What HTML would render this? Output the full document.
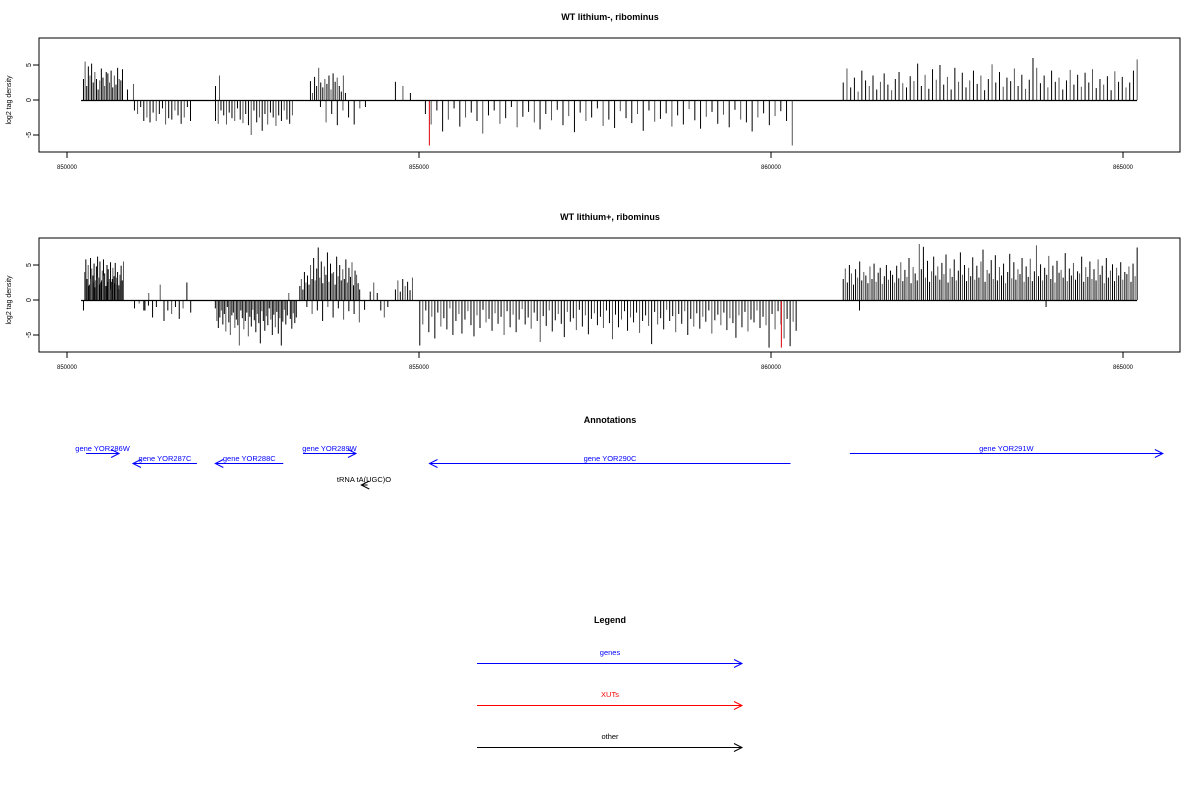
<!DOCTYPE html>
<html><head><meta charset="utf-8"><style>
body{margin:0;background:#fff;}
svg{display:block;font-family:"Liberation Sans",sans-serif;}
</style></head><body>
<svg id="c" width="1200" height="800" viewBox="0 0 1200 800"></svg>
<script>
const xTicks=[850000,855000,860000,865000];
const yTicks=[-5,0,5];
// Panel 1 regions: [startBp, endBp] and values
const p1Start=[850227,850852,850951,852102,852102,853451,853593,854658,855084,861019];
const p1End=[850781,850937,851747,852159,853195,853948,854232,854871,860295,865194];
const p1Vals=[
[3,5.5,2,4.8,3.5,5.2,2.5,4,3,1.5,2.8,4.5,3.2,2,4,3.8,2.5,4.2,1.8,3.5,2.2,4.6,3,2.8,4.4],
[1.5,2.3],
[-1.5,-2,-1,-3,-2.5,-3.2,-1.8,-3,-2,-1.2,-3.5,-2.6,-2.8,-1.5,-2.2,-3.4,-2.5,-1,-3],
[2,3.5],
[-3,-3.4,-1.5,-2.2,-3.5,-1.8,-2.6,-3,-1.2,-2.8,-3.3,-2,-3.6,-5,-1.5,-3.2,-2.5,-4.4,-2,-3.5,-1.8,-2.5,-3.7,-2.2,-3,-1.5,-2.8,-3.4,-2.2],
[2.7,1,3.3,2,4.6,2.5,1.8,3,2.3,3.5,1.5,3.8,2.6,3.2,2,1.2,3.5,1],
[-1,-3.2,-2,-3.6,-1.5,-2.5,-3.5,-1.2,-1],
[2.6,2,1],
[-2,-3.5,-1.5,-4.5,-2.8,-1.2,-3.8,-2.5,-1.8,-3,-4.8,-2.2,-1.5,-3.4,-2.6,-1,-3.9,-2.4,-1.7,-3.2,-4.2,-2,-2.9,-1.4,-3.6,-2.3,-4.6,-1.8,-3,-2.5,-1.2,-3.7,-2.8,-4,-1.6,-2.6,-3.3,-2,-4.4,-1.5,-3.1,-2.7,-1.9,-3.8,-2.2,-3.5,-1.3,-2.9,-4.1,-2.4,-1.7,-3.4,-2.1,-3.9,-1.4,-2.8,-3.2,-4.5,-2.5,-1.9,-3.6,-2.3,-1.6,-3,-6.5],
[2.5,4.5,1.8,3.2,1.2,4.2,2.8,2,3.5,1.5,2.6,3.8,2.2,1.4,3,4,2.4,1.8,3.4,2.7,5.2,2,3.6,1.6,4.4,2.9,5,2.2,3.3,1.5,4.6,2.6,3.9,1.8,2.8,4.2,2.3,3.5,1.4,3,5.1,2.5,4,1.9,3.2,2.7,4.5,2,3.6,1.6,2.9,6,4.6,2.4,3.5,1.8,4.2,2.6,3.2,1.5,2.8,4.3,2.2,3.6,1.9,3.9,2.5,4.4,1.7,3,2.2,3.4,1.4,4.1,2.6,3.3,1.8,2.5,4.2,5.8]
];
const p1RedBp=[855140]; const p1RedVal=[-6.5];
// Panel 2
const p2Start=[850227,850300,850952,851100,852100,853300,853400,854300,854658,855004,861019,861250,863900];
const p2End=[850795,850760,851150,851750,853250,854150,854220,854550,854900,860350,865194,861300,863950];
const p2Vals=[
[-1.5,4,5.8,3,5,2.2,6,4.5,3.5,5.2,2.8,4.8,6.2,3.2,5.5,2.5,4.2,5.8,3.8,2,5,4.4,3,5.4,2.6,4.6,3.4,5.3,2.2,4,1.5,3.6,4.9,2.8,5.5],
[2,3,2.5,1.8,3.2,2.2,2.8,3.5,2,2.6,1.5,3,2.4,3.2,2.1,2.7],
[-1.2,-0.5,-1.5,-0.8],
[-1.5,1,-2.5,-1,2.2,-3,-1.5,-2,-1,-2.7,-1.2,2.5,-1.8],
[-1.2,-3,-4,-2.5,-1.5,-3.5,-2,-4.5,-1,-3.2,-5,-2.2,-1.8,-4,-2.8,-3.6,-6.5,-1.5,-2.6,-4.2,-3,-1.8,-5.2,-2.4,-3.8,-1.4,-2.9,-4.6,-2,-3.3,-6.2,-1.6,-3,-4.4,-2.3,-3.6,-1.2,-2.8,-5,-2.1,-3.9,-1.7,-4.8,-2.6,-6.5,-3.1,-1.4,-3.5,-2.2,1,-2.7,-4.1,-1.9,-3.3,-2.5],
[2,3,1.5,4,2.5,3.5,2.2,5,3,6,2.8,4.5,7.5,3.2,5.5,2.4,4.8,3.6,6.8,2.6,5.2,3.8,4,2.2,6.2,3.4,5,2.8,4.4,3,5.8,2.5,4.6,3.3,5.4,2.1,4.2,3.6,2.4,1.5],
[-1,-2,-1.5,-3,-1,-2.5,-1.2,-2.8,-1.6,-2,-3.2,-1.4],
[1.2,2.5,1,-1.5,-2.5,-1],
[1.5,2.8,1.2,3,2,2.6,1.4,3.2],
[-6.5,-3.5,-1.5,-4.6,-2.4,-5.5,-1.8,-3.8,-2.6,-4.2,-1.2,-5,-3,-2,-4.8,-2.8,-1.6,-3.6,-5.2,-2.2,-4,-1.4,-3.2,-2.7,-4.4,-1.9,-3.4,-2.4,-5,-1.6,-3.9,-2.1,-4.6,-2.8,-1.3,-3.5,-2.5,-4.1,-1.8,-3,-6,-2.3,-3.7,-1.5,-4.5,-2.9,-2,-3.4,-5.3,-1.7,-3.1,-2.6,-4.3,-1.4,-3.8,-2.2,-4.9,-2.7,-1.9,-3.6,-2.4,-4,-1.5,-3.3,-5.6,-2.1,-3.9,-2.8,-1.6,-4.4,-2.5,-3.2,-1.8,-4.7,-3,-2.2,-3.7,-6.3,-1.7,-3.5,-2.6,-4.2,-1.4,-3,-2.3,-4.6,-2,-3.4,-1.6,-5,-2.7,-3.8,-1.9,-4.1,-2.4,-3.1,-1.5,-4.8,-2.9,-2.1,-3.6,-1.8,-4.3,-2.6,-3.3,-5.4,-2.2,-3.9,-1.7,-4.5,-2.8,-3.2,-1.5,-4,-2.4,-3.6,-6.8,-2,-4.2,-1.6,-3.5,-5.5,-2.7,-6.6,-3.1,-4.4],
[3,4.5,2.5,5,3.8,2.2,4.4,3.2,5.5,2.8,4,3.5,2.4,4.8,3,5.2,2.6,3.9,4.6,2.3,3.4,5,2.9,4.2,3.6,2.5,4.9,3.1,5.4,2.7,4.3,3.3,6,2.4,4.7,3.8,2.8,8,4.4,7.6,3.2,5.6,2.6,4.1,6.2,3.5,4.8,2.9,5.3,3.7,6.5,2.5,4.5,3.3,5.8,2.8,4.2,6.8,3.6,5,2.7,4.6,3.4,6.1,2.9,4.9,3.2,5.5,7.2,2.6,4.3,3.8,5.7,3,6.4,2.8,4.7,3.5,5.2,2.4,4,6.6,3.1,5.4,2.9,4.4,3.7,6,2.6,4.8,3.3,5.9,2.7,4.1,7.8,3.4,5.1,2.8,4.6,3.6,6.3,3,4.9,2.5,5.6,3.9,4.3,3.2,6.7,2.7,4.5,3.5,5.3,2.9,4.1,3.8,6.2,2.6,4.7,3.3,5.5,3,4.4,2.8,5.8,3.6,4.9,2.4,6,3.2,4.2,5.1,2.7,4.6,3.5,5.4,2.9,4,3.7,4.8,2.6,5.2,3.4,7.5],
[-1.5],
[-1]
];
const p2RedBp=[860140]; const p2RedVal=[-6.8];
// annotations
const geneNames=["gene YOR286W","gene YOR287C","gene YOR288C","gene YOR289W","gene YOR290C","gene YOR291W"];
const geneStart=[850270,850937,852107,853352,855149,861120];
const geneEnd=[850740,851846,853072,854105,860277,865566];
const geneStrand=["+","-","-","+","-","+"];
const tRNAName=["tRNA tA(UGC)O"];const tRNAStart=[854180];const tRNAEnd=[854270];

const NS="http://www.w3.org/2000/svg";
const svg=document.getElementById('c');
function mk(t,a,p){const e=document.createElementNS(NS,t);for(const k in a)e.setAttribute(k,a[k]);(p||svg).appendChild(e);return e;}
const xs=bp=>67+(bp-850000)*0.0704;
function txt(x,y,s,o){const e=mk('text',Object.assign({x:x,y:y,'font-size':8,'text-anchor':'middle'},o||{}));e.textContent=s;return e;}

function panel(top,title,starts,ends,vals,redBp,redVal,id){
  const y0=top+62; const ys=v=>y0-v*7;
  const g=mk('g',{});
  
  
  const t=txt(610,top-18,title,{'font-size':9,'font-weight':'bold'});
  
  
  const box=mk('rect',{x:39,y:top,width:1141,height:114,fill:'none',stroke:'#000','stroke-width':1},g);
  
  
  const bars=mk('g',{},g);
  
  
  for(let r=0;r<starts.length;r++){
    const n=vals[r].length;
    for(let i=0;i<n;i++){
      const bp=n>1?starts[r]+(ends[r]-starts[r])*i/(n-1):starts[r];
      const x=xs(bp)+0.5;
      const l=mk('line',{x1:x,x2:x,y1:y0,y2:ys(vals[r][i]),stroke:(i%3==1)?'#555':'#000','stroke-width':1},bars);
      
      
    }
  }
  for(let i=0;i<redBp.length;i++){
    const x=xs(redBp[i])+0.5;
    const l=mk('line',{x1:x,x2:x,y1:y0,y2:ys(redVal[i]),stroke:'#d00','stroke-width':1},g);
    
    
  }
  const base=mk('line',{x1:xs(850200),x2:xs(865200),y1:y0+0.5,y2:y0+0.5,stroke:'#000','stroke-width':1.2},g);
  
  
  xTicks.forEach(v=>{const x=xs(v);
    const tk=mk('line',{x1:x,x2:x,y1:top+114,y2:top+120,stroke:'#000'},g);
    
    
    const lb=txt(x,top+131,String(v),{'font-size':6});
    
    });
  yTicks.forEach(v=>{const y=ys(v);
    const tk=mk('line',{x1:33,x2:39,y1:y,y2:y,stroke:'#000'},g);
    
    
    const lb=txt(0,0,String(v),{'font-size':7,transform:`translate(31,${y}) rotate(-90)`});
    
    });
  const yl=txt(0,0,'log2 tag density',{'font-size':7,transform:`translate(11,${y0}) rotate(-90)`});
  
  
}
panel(38,'WT lithium-, ribominus',p1Start,p1End,p1Vals,p1RedBp,p1RedVal,'lithium-minus');
panel(238,'WT lithium+, ribominus',p2Start,p2End,p2Vals,p2RedBp,p2RedVal,'lithium-plus');

function arrow(x1,x2,y,col){
  const g=mk('g',{});
  mk('line',{x1:x1,x2:x2,y1:y,y2:y,stroke:col,'stroke-width':1},g);
  const d=x2>x1?-1:1;
  mk('polyline',{points:`${x2+d*8},${y-4} ${x2},${y} ${x2+d*8},${y+4}`,fill:'none',stroke:col,'stroke-width':1},g);
  return g;
}
const at=txt(610,423,'Annotations',{'font-size':9,'font-weight':'bold'});


geneNames.forEach((n,i)=>{
  const a=xs(geneStart[i]),b=xs(geneEnd[i]);
  const y=geneStrand[i]=='+'?453.5:463.5;
  const g=geneStrand[i]=='+'?arrow(a,b,y,'#00f'):arrow(b,a,y,'#00f');
  
  
  const l=txt((a+b)/2,y-2.5,n,{'font-size':7.5,fill:'#00f'});
  
  
});
tRNAName.forEach((n,i)=>{
  const a=xs(tRNAStart[i]),b=xs(tRNAEnd[i]);
  const g=arrow(b,a,485,'#000');
  
  
  const l=txt(364,482,n,{'font-size':7.5});
  
  
});
const lt=txt(610,623,'Legend',{'font-size':9,'font-weight':'bold'});


[['genes','#00f',663],['XUTs','#f00',705],['other','#000',747]].forEach(e=>{
  const g=arrow(477,742,e[2]+0.5,e[1]);
  
  
  const l=txt(610,e[2]-8,e[0],{'font-size':7.5,fill:e[1]});
  
  
});
</script>
</body></html>
